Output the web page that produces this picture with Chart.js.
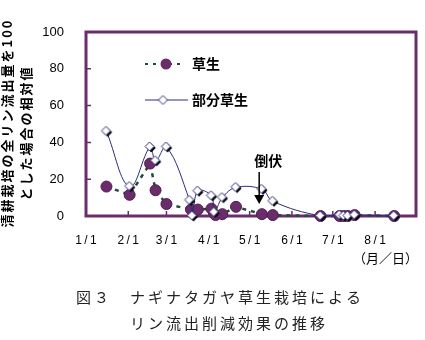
<!DOCTYPE html>
<html>
<head>
<meta charset="utf-8">
<script src="https://cdn.jsdelivr.net/npm/chart.js@4.4.0/dist/chart.umd.min.js"></script>
<style>
html, body { margin: 0; padding: 0; background: #fff; }
#wrap { width: 425px; height: 340px; }
</style>
</head>
<body>
<div id="wrap"><canvas id="chart" width="425" height="340"></canvas></div>
<script>
// x values are days counted from 1/1
const monthTickDays = [0, 31, 59, 90, 120, 151, 181, 212];
const monthTickLabels = ['1\u2009/\u20091', '2\u2009/\u20091', '3\u2009/\u20091', '4\u2009/\u20091',
    '5\u2009/\u20091', '6\u2009/\u20091', '7\u2009/\u20091', '8\u2009/\u20091'];
const yTickValues = [0, 20, 40, 60, 80, 100];

const seriesNames = ['草生', '部分草生'];
const grassDays = [15, 32, 47, 51, 59, 77, 82, 92, 95, 100, 110, 129, 137, 172, 186, 189, 192, 197, 226];
const grassValues = [16, 11.5, 28.5, 14, 6.5, 3.5, 3.5, 4, 0.5, 1, 5, 1, 0.5, 0, 0, 0, 0, 0.5, 0];
const partialDays = [15, 32, 47, 51, 59, 76, 78, 82, 92, 94, 100, 110, 129, 137, 172, 186, 189, 192, 197, 226];
const partialValues = [46, 16, 37.5, 30, 37.5, 8.5, 0, 13.5, 11, 2, 10, 15.5, 14.5, 8, 0, 0.5, 0, 0, 0.5, 0];

const lodgingLabel = '倒伏';
const lodgingDay = 127;
const yTitleLines = ['清耕栽培の全リン流出量を100', 'とした場合の相対値'];
const xUnitLabel = '（月／日）';
const captionLines = ['図３　ナギナタガヤ草生栽培による', 'リン流出削減効果の推移'];

const frameColor = '#6b2c6b';
const grassLine = '#1f4d3c';
const partialLine = '#2c2c7c';
const jpFont = '"Noto Sans CJK JP", sans-serif';

// diamond marker with a dark drop shadow, like the original
function makeDiamond(shadow) {
    const c = document.createElement('canvas');
    c.width = 14; c.height = 14;
    const g = c.getContext('2d');
    const cx = 6.5, cy = 6.5, r = 4.5;
    const path = d => {
        g.beginPath();
        g.moveTo(cx + d, cy - r + d);
        g.lineTo(cx + r + d, cy + d);
        g.lineTo(cx + d, cy + r + d);
        g.lineTo(cx - r + d, cy + d);
        g.closePath();
    };
    if (shadow) {
        path(1.6);
        g.fillStyle = '#000';
        g.fill();
    }
    path(0);
    g.fillStyle = '#fff';
    g.fill();
    g.strokeStyle = partialLine;
    g.lineWidth = 1;
    g.stroke();
    return c;
}
const diamondImg = makeDiamond(true);
const legendDiamond = makeDiamond(false);

// frame, inward ticks
const framePlugin = {
    id: 'frame',
    beforeDatasetsDraw(chart) {
        const { ctx, chartArea: a, scales } = chart;
        ctx.save();
        ctx.strokeStyle = frameColor;
        ctx.lineWidth = 3;
        ctx.strokeRect(a.left, a.top, a.right - a.left, a.bottom - a.top);
        ctx.lineWidth = 1.5;
        ctx.beginPath();
        monthTickDays.slice(1).forEach(d => {
            const x = scales.x.getPixelForValue(d);
            ctx.moveTo(x, a.bottom);
            ctx.lineTo(x, a.bottom - 5);
        });
        yTickValues.slice(1, -1).forEach(v => {
            const y = scales.y.getPixelForValue(v);
            ctx.moveTo(a.left, y);
            ctx.lineTo(a.left + 5, y);
        });
        ctx.stroke();
        ctx.restore();
    }
};

// legend, annotation, titles and caption
const extrasPlugin = {
    id: 'extras',
    afterDraw(chart) {
        const { ctx, chartArea: a, scales } = chart;
        ctx.save();

        // legend
        ctx.strokeStyle = grassLine;
        ctx.lineWidth = 2.2;
        ctx.setLineDash([3, 5]);
        ctx.beginPath();
        ctx.moveTo(145, 64);
        ctx.lineTo(184, 64);
        ctx.stroke();
        ctx.setLineDash([]);
        ctx.fillStyle = frameColor;
        ctx.beginPath();
        ctx.arc(166, 64, 5.5, 0, Math.PI * 2);
        ctx.fill();
        ctx.strokeStyle = partialLine;
        ctx.lineWidth = 1;
        ctx.beginPath();
        ctx.moveTo(145, 100);
        ctx.lineTo(188, 100);
        ctx.stroke();
        ctx.drawImage(legendDiamond, 163 - 6.5, 100 - 6.5);
        ctx.fillStyle = '#000';
        ctx.font = 'bold 14px ' + jpFont;
        ctx.textBaseline = 'middle';
        ctx.textAlign = 'left';
        ctx.fillText(seriesNames[0], 192, 64);
        ctx.fillText(seriesNames[1], 192, 100);

        // lodging arrow
        const ax = scales.x.getPixelForValue(lodgingDay);
        ctx.font = 'bold 14px ' + jpFont;
        ctx.fillText(lodgingLabel, ax - 5, 161);
        ctx.strokeStyle = '#000';
        ctx.lineWidth = 1.5;
        ctx.beginPath();
        ctx.moveTo(ax, 172);
        ctx.lineTo(ax, 197);
        ctx.stroke();
        ctx.beginPath();
        ctx.moveTo(ax - 5, 195);
        ctx.lineTo(ax + 5, 195);
        ctx.lineTo(ax, 204);
        ctx.closePath();
        ctx.fill();

        // y title
        ctx.font = 'bold 13px ' + jpFont;
        ctx.textAlign = 'center';
        ctx.letterSpacing = '2px';
        [[7.5, 123], [26.5, 133]].forEach((p, i) => {
            ctx.save();
            ctx.translate(p[0], p[1]);
            ctx.rotate(-Math.PI / 2);
            ctx.fillText(yTitleLines[i], 0, 0);
            ctx.restore();
        });
        ctx.letterSpacing = '0px';

        // unit label
        ctx.font = '13px ' + jpFont;
        ctx.textAlign = 'right';
        ctx.fillText(xUnitLabel, a.right + 2, 258);

        // caption, fixed pitch like the original
        ctx.font = '15px ' + jpFont;
        ctx.fillStyle = '#222';
        ctx.textAlign = 'center';
        [[76, 297], [130, 323]].forEach((p, i) => {
            Array.from(captionLines[i]).forEach((ch, k) => {
                ctx.fillText(ch, p[0] + 7.5 + k * 18, p[1]);
            });
        });
        ctx.restore();
    }
};

new Chart(document.getElementById('chart'), {
    type: 'scatter',
    data: {
        datasets: [{
            label: seriesNames[0],
            data: grassDays.map((d, i) => ({ x: d, y: grassValues[i] })),
            showLine: true,
            borderColor: grassLine,
            borderWidth: 2.5,
            borderDash: [4, 5],
            pointStyle: 'circle',
            pointRadius: 5.5,
            pointBackgroundColor: frameColor,
            pointBorderColor: '#4d1e4d',
            pointBorderWidth: 1,
            clip: false,
            order: 2
        }, {
            label: seriesNames[1],
            data: partialDays.map((d, i) => ({ x: d, y: partialValues[i] })),
            showLine: true,
            borderColor: partialLine,
            borderWidth: 1,
            tension: 0.4,
            pointStyle: diamondImg,
            clip: false,
            order: 1
        }]
    },
    options: {
        responsive: false,
        animation: false,
        events: [],
        layout: { padding: { top: 32, right: 9, left: 0, bottom: 0 } },
        plugins: { legend: { display: false }, tooltip: { enabled: false } },
        scales: {
            x: {
                type: 'linear',
                min: 0,
                max: 242,
                afterBuildTicks: s => { s.ticks = monthTickDays.map(v => ({ value: v })); },
                afterFit: s => { s.height = 124; },
                grid: { display: false, drawTicks: false },
                border: { display: false },
                ticks: {
                    autoSkip: false,
                    maxRotation: 0,
                    padding: 17,
                    color: '#000',
                    font: { family: 'Liberation Sans, Arial', size: 12 },
                    callback: (v, i) => monthTickLabels[i]
                }
            },
            y: {
                min: 0,
                max: 100,
                afterBuildTicks: s => { s.ticks = yTickValues.map(v => ({ value: v })); },
                afterFit: s => { s.width = 86; },
                grid: { display: false, drawTicks: false },
                border: { display: false },
                ticks: {
                    padding: 22,
                    color: '#000',
                    font: { family: 'Liberation Sans, Arial', size: 13 }
                }
            }
        }
    },
    plugins: [framePlugin, extrasPlugin]
});
</script>
</body>
</html>
